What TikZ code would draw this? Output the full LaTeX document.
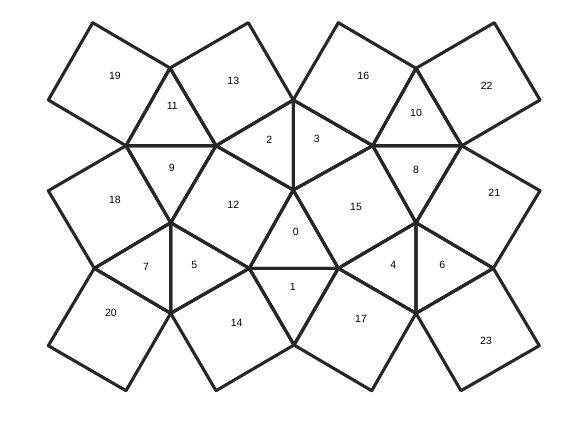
\documentclass[tikz,border=0pt]{standalone}
\usepackage{fontspec}
\setmainfont{Liberation Sans}

\begin{document}
\begin{tikzpicture}[x=1pt, y=-1pt,
	tile/.style={draw=black!85, line width=3.1pt, line join=round},
	num/.style={font=\fontsize{10.5}{12}\selectfont, inner sep=0pt}]
	\useasboundingbox (0,0) rectangle (576,423);
	% corners of the tiling
	\coordinate (a) at (92.7,22.7);
	\coordinate (b) at (170,68);
	\coordinate (c) at (248.3,22.7);
	\coordinate (d) at (293.3,100);
	\coordinate (e) at (48.3,100);
	\coordinate (f) at (126,145.7);
	\coordinate (g) at (216,145.7);
	\coordinate (h) at (293.3,190);
	\coordinate (i) at (48.3,190.7);
	\coordinate (j) at (170.7,222.7);
	\coordinate (k) at (338.3,22.7);
	\coordinate (l) at (416,68.3);
	\coordinate (m) at (494.3,22.7);
	\coordinate (n) at (540,100);
	\coordinate (o) at (372.7,145.7);
	\coordinate (p) at (461.7,145.7);
	\coordinate (q) at (540,190.7);
	\coordinate (r) at (416,222.7);
	\coordinate (s) at (94.3,268.3);
	\coordinate (t) at (249.3,268.3);
	\coordinate (u) at (170.7,313.3);
	\coordinate (v) at (48.3,345.7);
	\coordinate (w) at (126,390.7);
	\coordinate (x) at (216,390.7);
	\coordinate (y) at (294,345);
	\coordinate (z) at (338.3,268.3);
	\coordinate (aa) at (493.3,268.3);
	\coordinate (bb) at (416,313.3);
	\coordinate (cc) at (371.7,390.7);
	\coordinate (dd) at (461,390.7);
	\coordinate (ee) at (539.3,345.7);
	% squares
	\draw[tile] (a) -- (b) -- (f) -- (e) -- cycle;
	\draw[tile] (b) -- (c) -- (d) -- (g) -- cycle;
	\draw[tile] (k) -- (l) -- (o) -- (d) -- cycle;
	\draw[tile] (l) -- (m) -- (n) -- (p) -- cycle;
	\draw[tile] (i) -- (f) -- (j) -- (s) -- cycle;
	\draw[tile] (g) -- (h) -- (t) -- (j) -- cycle;
	\draw[tile] (h) -- (o) -- (r) -- (z) -- cycle;
	\draw[tile] (p) -- (q) -- (aa) -- (r) -- cycle;
	\draw[tile] (s) -- (u) -- (w) -- (v) -- cycle;
	\draw[tile] (t) -- (y) -- (x) -- (u) -- cycle;
	\draw[tile] (z) -- (bb) -- (cc) -- (y) -- cycle;
	\draw[tile] (bb) -- (aa) -- (ee) -- (dd) -- cycle;
	% triangles
	\draw[tile] (b) -- (g) -- (f) -- cycle;
	\draw[tile] (f) -- (g) -- (j) -- cycle;
	\draw[tile] (g) -- (d) -- (h) -- cycle;
	\draw[tile] (d) -- (o) -- (h) -- cycle;
	\draw[tile] (l) -- (p) -- (o) -- cycle;
	\draw[tile] (o) -- (p) -- (r) -- cycle;
	\draw[tile] (h) -- (z) -- (t) -- cycle;
	\draw[tile] (t) -- (z) -- (y) -- cycle;
	\draw[tile] (j) -- (u) -- (s) -- cycle;
	\draw[tile] (j) -- (t) -- (u) -- cycle;
	\draw[tile] (r) -- (bb) -- (z) -- cycle;
	\draw[tile] (r) -- (aa) -- (bb) -- cycle;
	% tile numbers
	\node[num] (n0) at (295.7,232.3) {0};
	\node[num] (n1) at (292.7,286.7) {1};
	\node[num] (n2) at (269.3,140) {2};
	\node[num] (n3) at (316.7,139) {3};
	\node[num] (n4) at (393.3,265) {4};
	\node[num] (n5) at (194.3,265) {5};
	\node[num] (n6) at (442.3,265) {6};
	\node[num] (n7) at (146,266.7) {7};
	\node[num] (n8) at (416,170) {8};
	\node[num] (n9) at (171.7,167.7) {9};
	\node[num] (n10) at (416,112.7) {10};
	\node[num] (n11) at (172.3,106) {11};
	\node[num] (n12) at (233.3,205) {12};
	\node[num] (n13) at (233.3,80.7) {13};
	\node[num] (n14) at (236.7,322.7) {14};
	\node[num] (n15) at (356,206.7) {15};
	\node[num] (n16) at (363.3,76) {16};
	\node[num] (n17) at (361,319.3) {17};
	\node[num] (n18) at (115,200) {18};
	\node[num] (n19) at (115,75.5) {19};
	\node[num] (n20) at (111,312.7) {20};
	\node[num] (n21) at (494.3,193.3) {21};
	\node[num] (n22) at (486.7,86) {22};
	\node[num] (n23) at (486,340.7) {23};
\end{tikzpicture}
\end{document}
